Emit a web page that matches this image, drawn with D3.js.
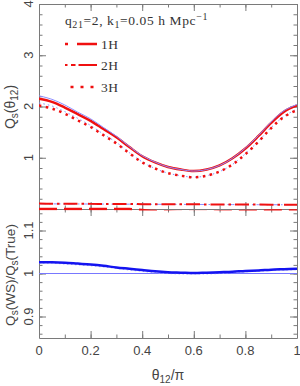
<!DOCTYPE html>
<html>
<head>
<meta charset="utf-8">
<script src="https://cdn.jsdelivr.net/npm/d3@7"></script>
<style>
body { margin: 0; background: #fff; }
text { font-family: "Liberation Sans", Arial, sans-serif; fill: #444; }
.serif { font-family: "Liberation Serif", "Times New Roman", serif; fill: #333; }
</style>
</head>
<body>
<div id="my_dataviz"></div>
<script>
// theta_12 / pi sample points
const theta = [0, 0.05, 0.1, 0.15, 0.2, 0.25, 0.3, 0.35, 0.4, 0.45, 0.5,
               0.55, 0.6, 0.65, 0.7, 0.75, 0.8, 0.85, 0.9, 0.95, 1];

// top panel: Q_s(theta_12)
const totalTrue = [2.15, 2.09, 1.98, 1.85, 1.72, 1.56, 1.40, 1.21, 1.03, 0.91, 0.82,
                   0.77, 0.74, 0.77, 0.85, 0.99, 1.18, 1.42, 1.68, 1.90, 2.02];
const totalWS   = [2.21, 2.14, 2.03, 1.89, 1.76, 1.59, 1.42, 1.22, 1.04, 0.915, 0.82,
                   0.77, 0.74, 0.77, 0.85, 0.99, 1.19, 1.43, 1.70, 1.92, 2.04];
const threeHTrue = [2.02, 1.96, 1.86, 1.73, 1.60, 1.44, 1.28, 1.09, 0.91, 0.79, 0.70,
                    0.65, 0.62, 0.65, 0.73, 0.87, 1.07, 1.31, 1.58, 1.80, 1.93];
const threeHWS   = [2.07, 2.01, 1.90, 1.77, 1.63, 1.46, 1.30, 1.10, 0.92, 0.79, 0.70,
                    0.65, 0.62, 0.65, 0.73, 0.87, 1.08, 1.32, 1.59, 1.81, 1.95];
const twoHTrue = [0.105, 0.104, 0.103, 0.102, 0.10, 0.099, 0.098, 0.097, 0.095, 0.094, 0.093,
                  0.092, 0.091, 0.09, 0.089, 0.088, 0.087, 0.086, 0.085, 0.084, 0.084];
const twoHWS   = [0.10, 0.10, 0.099, 0.098, 0.097, 0.096, 0.095, 0.094, 0.093, 0.092, 0.091,
                  0.09, 0.089, 0.088, 0.087, 0.086, 0.085, 0.084, 0.083, 0.083, 0.082];
const oneHTrue = [0.002, 0.002, 0.002, 0.001, 0.001, 0.001, 0.0, 0.0, -0.02, -0.04, -0.05,
                  -0.06, -0.06, -0.06, -0.05, -0.05, -0.04, -0.04, -0.03, -0.03, -0.03];

// bottom panel: Q_s(WS)/Q_s(True)
const ratioTotal = [1.026, 1.026, 1.025, 1.023, 1.021, 1.018, 1.014, 1.011, 1.008, 1.005, 1.003,
                    1.002, 1.001, 1.002, 1.003, 1.004, 1.006, 1.007, 1.009, 1.010, 1.011];
const ratio3H    = [1.024, 1.024, 1.022, 1.020, 1.018, 1.015, 1.012, 1.008, 1.005, 1.002, 1.0,
                    0.999, 0.999, 0.999, 1.0, 1.002, 1.004, 1.005, 1.007, 1.008, 1.009];

const xTicks = [0, 0.2, 0.4, 0.6, 0.8, 1];
const topTicks = [1, 2, 3, 4];
const botTicks = [0.9, 1, 1.1];
const legendLabels = ["1H", "2H", "3H"];

const width = 300, height = 386;
const pLeft = 39, pRight = 297, pTop = 4, pMid = 209, pBottom = 338;

const svg = d3.select("#my_dataviz")
    .append("svg")
    .attr("width", width)
    .attr("height", height);

const x = d3.scaleLinear().domain([0, 1]).range([pLeft, pRight]);
const yTop = d3.scaleLinear().domain([0, 4]).range([pMid, pTop]);
const yBot = d3.scaleLinear().domain([0.85, 1.15]).range([pBottom, pMid]);

const xMinor = d3.range(0, 1.0001, 0.1);
const topMinor = d3.range(0, 4.0001, 0.2);
const botMinor = d3.range(0.86, 1.1501, 0.02);

// draws inward ticks on all four sides of a panel
function frame(yScale, yMajor, yMinor, y0, y1) {
    const g = svg.append("g");
    const sides = [
        {gen: d3.axisBottom, scale: x, pos: `translate(0,${y0})`},
        {gen: d3.axisTop, scale: x, pos: `translate(0,${y1})`},
        {gen: d3.axisLeft, scale: yScale, pos: `translate(${pLeft},0)`},
        {gen: d3.axisRight, scale: yScale, pos: `translate(${pRight},0)`}
    ];
    sides.forEach((s, i) => {
        const isX = i < 2;
        const major = isX ? xTicks : yMajor;
        const minor = isX ? xMinor : yMinor;
        g.append("g").attr("transform", s.pos)
            .call(s.gen(s.scale).tickValues(minor).tickSize(-3.5).tickFormat(""))
            .call(a => a.select(".domain").remove());
        g.append("g").attr("transform", s.pos)
            .call(s.gen(s.scale).tickValues(major).tickSize(-7).tickSizeOuter(0).tickFormat(""));
    });
    g.selectAll("line").attr("stroke", "#7a7a7a");
    g.selectAll(".domain").attr("stroke", "#7a7a7a");
    // rotated y tick labels
    g.selectAll(".ylab")
        .data(yMajor)
        .enter().append("text")
        .attr("transform", d => `translate(32.5,${yScale(d)}) rotate(-90)`)
        .attr("text-anchor", "middle")
        .attr("font-size", 13)
        .text(d => d);
}

frame(yTop, topTicks, topMinor, pMid, pTop);
frame(yBot, botTicks, botMinor, pBottom, pMid);

// x tick labels
svg.selectAll(".xlab")
    .data(xTicks)
    .enter().append("text")
    .attr("x", d => x(d))
    .attr("y", 355)
    .attr("text-anchor", "middle")
    .attr("font-size", 13)
    .text(d => d);

// clip regions
const defs = svg.append("defs");
defs.append("clipPath").attr("id", "clipTop")
    .append("rect").attr("x", pLeft).attr("y", pTop).attr("width", pRight - pLeft).attr("height", pMid - pTop + 1.5);
defs.append("clipPath").attr("id", "clipBot")
    .append("rect").attr("x", pLeft).attr("y", pMid).attr("width", pRight - pLeft).attr("height", pBottom - pMid);

function lineTop(vals) {
    return d3.line().x((d, i) => x(theta[i])).y(d => yTop(d)).curve(d3.curveCatmullRom)(vals);
}
function lineBot(vals) {
    return d3.line().x((d, i) => x(theta[i])).y(d => yBot(d)).curve(d3.curveCatmullRom)(vals);
}

const red = "#f01010", blueThin = "#8c8cff", blueThick = "#1414f0";

const gt = svg.append("g").attr("clip-path", "url(#clipTop)");
const topSeries = [
    {v: oneHTrue, c: red, w: 2.5, dash: "18,7"},
    {v: twoHWS, c: blueThin, w: 1, dash: "7,3,1.5,3"},
    {v: twoHTrue, c: red, w: 2, dash: "14,4,2.5,4"},
    {v: threeHWS, c: blueThin, w: 1, dash: "1.5,3"},
    {v: threeHTrue, c: red, w: 2.5, dash: "2.5,4.5"},
    {v: totalTrue, c: red, w: 2.5, dash: null},
    {v: totalWS, c: blueThin, w: 1, dash: null}
];
topSeries.forEach(s => {
    gt.append("path")
        .attr("d", lineTop(s.v))
        .attr("fill", "none")
        .attr("stroke", s.c)
        .attr("stroke-width", s.w)
        .attr("stroke-dasharray", s.dash);
});

const gb = svg.append("g").attr("clip-path", "url(#clipBot)");
gb.append("line")
    .attr("x1", pLeft).attr("x2", pRight)
    .attr("y1", yBot(1)).attr("y2", yBot(1))
    .attr("stroke", "#7878ff").attr("stroke-width", 1);
gb.append("path")
    .attr("d", lineBot(ratio3H))
    .attr("fill", "none").attr("stroke", "#a8a8ff")
    .attr("stroke-width", 1).attr("stroke-dasharray", "1.5,2.5");
gb.append("path")
    .attr("d", lineBot(ratioTotal))
    .attr("fill", "none").attr("stroke", blueThick)
    .attr("stroke-width", 2.5);

// legend
const header = svg.append("text").attr("class", "serif")
    .attr("x", 65).attr("y", 25).attr("font-size", 13.5).attr("letter-spacing", 0.6);
header.append("tspan").text("q");
header.append("tspan").attr("font-size", 10).attr("dy", 3).text("21");
header.append("tspan").attr("dy", -3).text("=2,  k");
header.append("tspan").attr("font-size", 10).attr("dy", 3).text("1");
header.append("tspan").attr("dy", -3).text("=0.05  h  Mpc");
header.append("tspan").attr("font-size", 10).attr("dy", -5).text("\u22121");

const legendStyles = [
    {x1: 65, dash: "3,9,20", w: 2.5},
    {x1: 65, dash: "2.5,3.5,4.5,3,19", w: 2},
    {x1: 70.5, dash: "3,7", w: 2.5}
];
const legendY = [44, 65, 87];
legendLabels.forEach((lab, i) => {
    svg.append("line")
        .attr("x1", legendStyles[i].x1).attr("x2", 97)
        .attr("y1", legendY[i]).attr("y2", legendY[i])
        .attr("stroke", red).attr("stroke-width", legendStyles[i].w)
        .attr("stroke-dasharray", legendStyles[i].dash);
    svg.append("text").attr("class", "serif")
        .attr("x", 101).attr("y", legendY[i] + 4.5)
        .attr("font-size", 13.5).attr("letter-spacing", 0.6)
        .text(lab);
});

// axis titles
const yt1 = svg.append("text")
    .attr("transform", "translate(14.5,107) rotate(-90)")
    .attr("text-anchor", "middle").attr("font-size", 14);
yt1.append("tspan").text("Q");
yt1.append("tspan").attr("font-size", 10).attr("dy", 3).text("s");
yt1.append("tspan").attr("dy", -3).text("(\u03b8");
yt1.append("tspan").attr("font-size", 10).attr("dy", 3).text("12");
yt1.append("tspan").attr("dy", -3).text(")");

const yt2 = svg.append("text")
    .attr("transform", "translate(14.5,275) rotate(-90)")
    .attr("text-anchor", "middle").attr("font-size", 13.5);
yt2.append("tspan").text("Q");
yt2.append("tspan").attr("font-size", 10).attr("dy", 3).text("s");
yt2.append("tspan").attr("dy", -3).text("(WS)/Q");
yt2.append("tspan").attr("font-size", 10).attr("dy", 3).text("s");
yt2.append("tspan").attr("dy", -3).text("(True)");

const xt = svg.append("text")
    .attr("x", 168).attr("y", 380)
    .attr("text-anchor", "middle").attr("font-size", 14);
xt.append("tspan").text("\u03b8");
xt.append("tspan").attr("font-size", 10).attr("dy", 3).text("12");
xt.append("tspan").attr("dy", -3).text("/\u03c0");
</script>
</body>
</html>
